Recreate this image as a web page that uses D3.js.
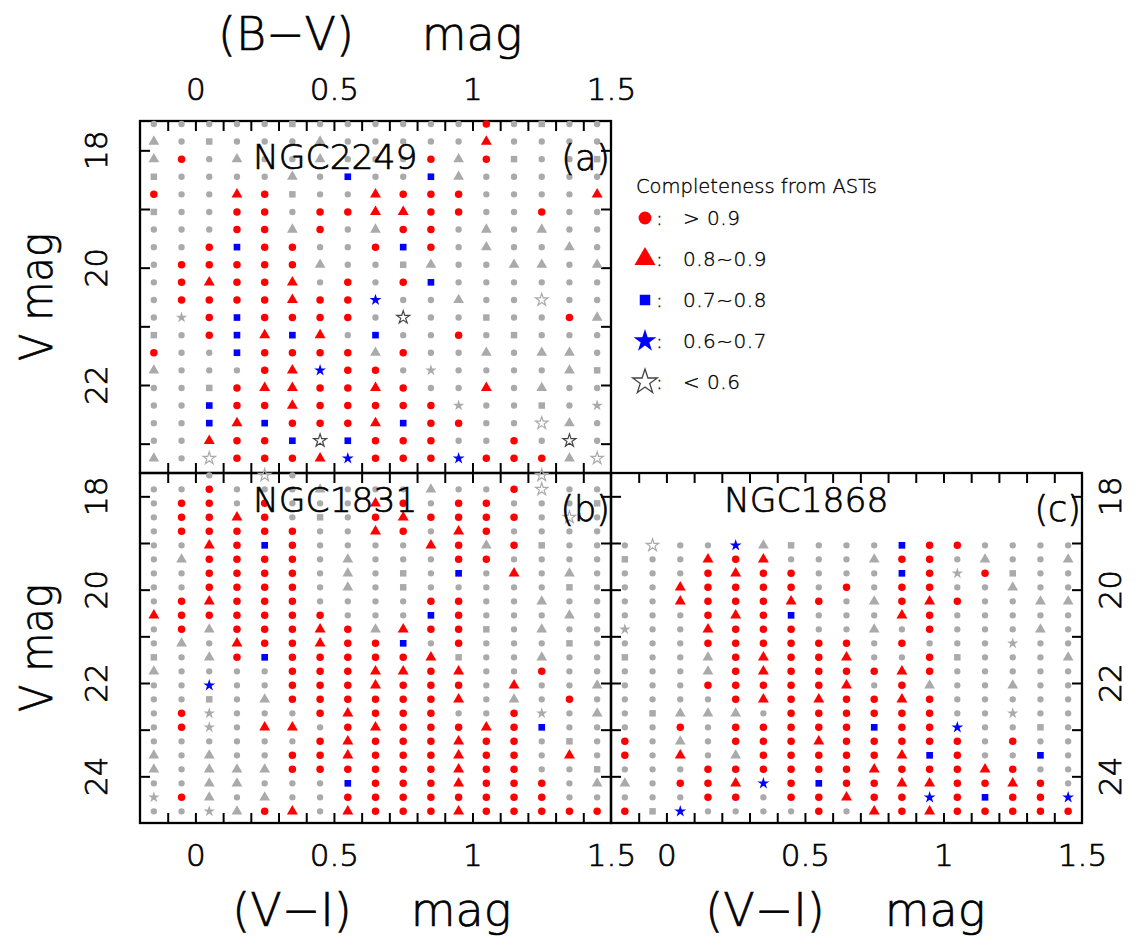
<!DOCTYPE html>
<html>
<head>
<meta charset="utf-8">
<script src="https://cdn.jsdelivr.net/npm/d3@7"></script>
<style>
  body { margin: 0; background: #fff; }
  text { font-family: "DejaVu Sans", "Liberation Sans", sans-serif; font-weight: 300; fill: #000; stroke: #000; stroke-width: 0.7; }
  .legend text { stroke-width: 0.35; }
</style>
</head>
<body>
<svg id="chart" width="1138" height="946"></svg>
<script>
// colour bins (B-V for NGC2249, V-I for the LMC clusters)
const colorBins = [-0.15, -0.05, 0.05, 0.15, 0.25, 0.35, 0.45, 0.55, 0.65, 0.75, 0.85, 0.95, 1.05, 1.15, 1.25, 1.35, 1.45];
// magnitude bins, top to bottom
const magBins = [17.55, 17.85, 18.15, 18.45, 18.75, 19.05, 19.35, 19.65, 19.95, 20.25, 20.55, 20.85, 21.15,
                 21.45, 21.75, 22.05, 22.35, 22.65, 22.95, 23.25, 23.55, 23.85, 24.15, 24.45, 24.75];

// codes: R >0.9, T 0.8~0.9, B 0.7~0.8, S 0.6~0.7, U <0.6 ; lower case = grey (same classes), u grey open star, . empty
const ngc2249Rows = [
  "o o o o o s o o o o o o R o s o o",
  "t o s o o o t o o o o o T o o o o",
  "t R o t o o t o o o R t R s o o s",
  "s o o o o t o B o o B t o o o o o",
  "R o o T R s o o T R R R o o o o T",
  "s o o R R o R R T T R R o o R o o",
  "o o o R R t R o t R R o t o t o o",
  "o o R B R R o o R B R o t o o t o",
  "o R R R R R t o o s t o o t t o t",
  "o R T R R T o R o R B o o o o o o",
  "o R R R R T R R S o o t o o u o o",
  "o x R B R R R R o U o o s o o R t",
  "s o R B T B T o B o o R o s o o o",
  "R o o B R R R R t R o o t o t t o",
  "t o o o R T S R R o x o o o o t s",
  "o o s R T T R R T R o o T o t o o",
  "o o B R R T R R R R R x o o s o x",
  "o o B T B R R R T B R R o o u t o",
  "o o T R R B U B R R R o o R o U o",
  "t o u R R R T S R R R S R R R t u"
];
const ngc2249FirstBin = 0;

const ngc1831Rows = [
  ". . o . u o . . . . . . . . u . .",
  "o o R o o o t o o o t o o R u o o",
  "o R R o R o o o T R o R R o o o s",
  "o R R T R o s o R T R R R R o u o",
  "o R R R R R o o T R o T R o o o o",
  "o o T R B R o o o o T R t R s o o",
  "o t R R R R o t o o o R R o o o o",
  "o o R R R R o t o s o B o T o t o",
  "o o R R R R o t o s o o o o o s o",
  "o R T R R R o o o o R R o o t o o",
  "T R R R R R R o o o B R o o o t o",
  "o R t R R R T R t T R R s o t o o",
  "o t o T R R T R R B o R o o o s o",
  "s o t R B R R R R R T s o o t o o",
  "t o o o o R R R T T R T o o R o o",
  "o o S o o R R R T R R R o T o o t",
  "o o s o t R R R R R R T o t o R o",
  "o R x o o o R T R R R o o R x o t",
  "o R x o T T o R T R R R T R B o o",
  "o o o o o o R T R R R T R R o s o",
  "t o t o o R R T R R R T R R o T o",
  "t o t t t R R R R R R T R R o o s",
  "o o t t o o o B R R R T R R R o t",
  "x R t o t o o R R R R R R R R o o",
  "o o x t R T o T R R R T R R R R R"
];
const ngc1831FirstBin = 0;

const ngc1868Rows = [
  "o u o o S t s o o o B R R o o o o",
  "s o o T R T o o o t R R o t o o t",
  "o o o R T R R o o o B R x R s o o",
  "o o T R R R R o R o R R o o t o o",
  "o o T R R R T R o t R T R o o t t",
  "o o o R T R B o o o T R o o o o o",
  "x o o T R R R o o t o R o o o t o",
  "o o o R R R R R R o R o o o x o o",
  "s o o t R T R R T o o R s o o o t",
  "o o o t R T R R R R T R o o o o o",
  "o o o R R R R R T o R t o o t o o",
  "o o o o R T R T R R T R o o o o o",
  "o s t t t o R R R R R R o o x o o",
  "o o R o R R R R R B R R S o o s o",
  "R o t o R R R T R R R R R o R o o",
  "R o T o t R R R R R T B R o o B o",
  "o o o R R R R R R T R R R T R o o",
  "t o R R T S R B R R T T R R T R o",
  "o o o R R o R R T R R S R B R R S",
  "R s S o o o o R o T R T R R R R R"
];
const ngc1868FirstBin = 5;

const clusterNames = ["NGC2249", "NGC1831", "NGC1868"];
const panelTags = ["(a)", "(b)", "(c)"];
const colorTickLabels = [0, 0.5, 1, 1.5];
const colorMinorTicks = [-0.1, 0, 0.1, 0.2, 0.3, 0.4, 0.5, 0.6, 0.7, 0.8, 0.9, 1.0, 1.1, 1.2, 1.3, 1.4];
const magTicksA = [18, 19, 20, 21, 22, 23];
const magTicksBC = [18, 19, 20, 21, 22, 23, 24];
const magLabelsA = [18, 20, 22];
const magLabelsBC = [18, 20, 22, 24];
const legendCodes = ["R", "T", "B", "S", "U"];
const legendLabels = ["> 0.9", "0.8~0.9", "0.7~0.8", "0.6~0.7", "< 0.6"];

const GRAY = "#aaaaaa", RED = "#ff0000", BLUE = "#0000ff";
const markerStyles = {
  o: { type: d3.symbolCircle, size: 32, fill: GRAY },
  t: { type: d3.symbolTriangle, size: 50, fill: GRAY },
  s: { type: d3.symbolSquare, size: 42, fill: GRAY },
  x: { type: d3.symbolStar, size: 40, fill: GRAY },
  u: { type: d3.symbolStar, size: 48, fill: "none", stroke: GRAY },
  R: { type: d3.symbolCircle, size: 44, fill: RED },
  T: { type: d3.symbolTriangle, size: 52, fill: RED },
  B: { type: d3.symbolSquare, size: 44, fill: BLUE },
  S: { type: d3.symbolStar, size: 44, fill: BLUE },
  U: { type: d3.symbolStar, size: 52, fill: "none", stroke: "#444" }
};

const svg = d3.select("#chart");

const xA = d3.scaleLinear().domain([-0.2, 1.5]).range([140, 611]);
const yA = d3.scaleLinear().domain([17.5, 23.5]).range([121, 473]);
const xB = d3.scaleLinear().domain([-0.2, 1.5]).range([140, 611]);
const yB = d3.scaleLinear().domain([17.5, 25]).range([473, 823]);
const xC = d3.scaleLinear().domain([-0.2, 1.5]).range([611, 1082]);
const yC = yB;

const panels = [
  { rows: ngc2249Rows, first: ngc2249FirstBin, x: xA, y: yA, magTicks: magTicksA },
  { rows: ngc1831Rows, first: ngc1831FirstBin, x: xB, y: yB, magTicks: magTicksBC },
  { rows: ngc1868Rows, first: ngc1868FirstBin, x: xC, y: yC, magTicks: magTicksBC }
];

const TICK = 10;
const noDomain = g => g.select(".domain").remove();

panels.forEach((p, pi) => {
  const [x0, x1] = p.x.range();
  const [y0, y1] = p.y.range();

  // frame
  svg.append("rect")
    .attr("x", x0).attr("y", y0).attr("width", x1 - x0).attr("height", y1 - y0)
    .attr("fill", "none").attr("stroke", "#000").attr("stroke-width", 2.3);

  // inward ticks on all four sides
  const tk = g => g.selectAll(".tick line").attr("stroke", "#000").attr("stroke-width", 2);
  svg.append("g").attr("transform", `translate(0,${y0})`)
    .call(d3.axisTop(p.x).tickValues(colorMinorTicks).tickSize(-TICK).tickFormat(""))
    .call(noDomain).call(tk);
  svg.append("g").attr("transform", `translate(0,${y1})`)
    .call(d3.axisBottom(p.x).tickValues(colorMinorTicks).tickSize(-TICK).tickFormat(""))
    .call(noDomain).call(tk);
  svg.append("g").attr("transform", `translate(${x0},0)`)
    .call(d3.axisLeft(p.y).tickValues(p.magTicks).tickSize(-TICK).tickFormat(""))
    .call(noDomain).call(tk);
  svg.append("g").attr("transform", `translate(${x1},0)`)
    .call(d3.axisRight(p.y).tickValues(p.magTicks).tickSize(-TICK).tickFormat(""))
    .call(noDomain).call(tk);

  // grid markers
  const pts = [];
  p.rows.forEach((row, r) => {
    row.split(" ").forEach((code, i) => {
      if (code !== ".") pts.push({ code, c: colorBins[i], v: magBins[p.first + r] });
    });
  });
  svg.append("g").selectAll("path").data(pts).join("path")
    .attr("transform", d => `translate(${p.x(d.c)},${p.y(d.v)})`)
    .attr("d", d => d3.symbol(markerStyles[d.code].type, markerStyles[d.code].size)())
    .attr("fill", d => markerStyles[d.code].fill)
    .attr("stroke", d => markerStyles[d.code].stroke || "none")
    .attr("stroke-width", 1.2);

  // cluster name and panel tag
  svg.append("text").attr("x", x0 + 113).attr("y", y0 + (pi === 0 ? 48 : 39))
    .attr("font-size", 34.5).text(clusterNames[pi]);
  svg.append("text").attr("x", x1 - 1).attr("y", y0 + (pi === 0 ? 49 : 48))
    .attr("text-anchor", "end").attr("font-size", 35).text(panelTags[pi]);
});

// colour tick labels
const labelAxis = (axis, sel) => sel.call(axis.tickValues(colorTickLabels).tickSize(0).tickPadding(21).tickFormat(d3.format("")))
  .call(noDomain)
  .call(g => g.selectAll("text").attr("font-size", 31).attr("font-family", null).attr("fill", "#000"));
labelAxis(d3.axisTop(xA), svg.append("g").attr("transform", "translate(0,121)"));
labelAxis(d3.axisBottom(xB), svg.append("g").attr("transform", "translate(0,823)"));
labelAxis(d3.axisBottom(xC), svg.append("g").attr("transform", "translate(0,823)"));

// magnitude tick labels (rotated)
const magLabel = (xPos, scale, values) => {
  svg.append("g").selectAll("text").data(values).join("text")
    .attr("transform", d => `translate(${xPos},${scale(d)}) rotate(-90)`)
    .attr("text-anchor", "middle").attr("font-size", 31).text(d => d);
};
magLabel(107, yA, magLabelsA);
magLabel(107, yB, magLabelsBC);
magLabel(1121, yC, magLabelsBC);

// axis titles: the colour part and "mag" sit apart, as in the original
const title = (x, y, s) => svg.append("text").attr("x", x).attr("y", y)
  .attr("text-anchor", "middle").attr("font-size", 46).text(s);
title(286, 50, "(B\u2212V)");
title(472, 50, "mag");
title(292, 926, "(V\u2212I)");
title(461, 926, "mag");
title(765, 926, "(V\u2212I)");
title(935, 926, "mag");
[297, 648].forEach(cy => {
  svg.append("text").attr("transform", `translate(52,${cy}) rotate(-90)`).attr("text-anchor", "middle")
    .attr("font-size", 44).attr("textLength", 128).attr("lengthAdjust", "spacingAndGlyphs").text("V mag");
});

// legend
const legend = svg.append("g").attr("class", "legend");
legend.append("text").attr("x", 636).attr("y", 193).attr("font-size", 19.5).text("Completeness from ASTs");
const legendSizes = { R: 130, T: 190, B: 110, S: 160, U: 190 };
legendCodes.forEach((code, i) => {
  const y = 218 + i * 41;
  const st = markerStyles[code];
  legend.append("path").attr("transform", `translate(645,${y})`)
    .attr("d", d3.symbol(st.type, legendSizes[code])())
    .attr("fill", st.fill).attr("stroke", st.stroke || "none").attr("stroke-width", 1.3);
  legend.append("text").attr("x", 656).attr("y", y + 7).attr("font-size", 20).text(":");
  legend.append("text").attr("x", 683).attr("y", y + 7).attr("font-size", 20)
    .attr("letter-spacing", 0.5).text(legendLabels[i]);
});
</script>
</body>
</html>
